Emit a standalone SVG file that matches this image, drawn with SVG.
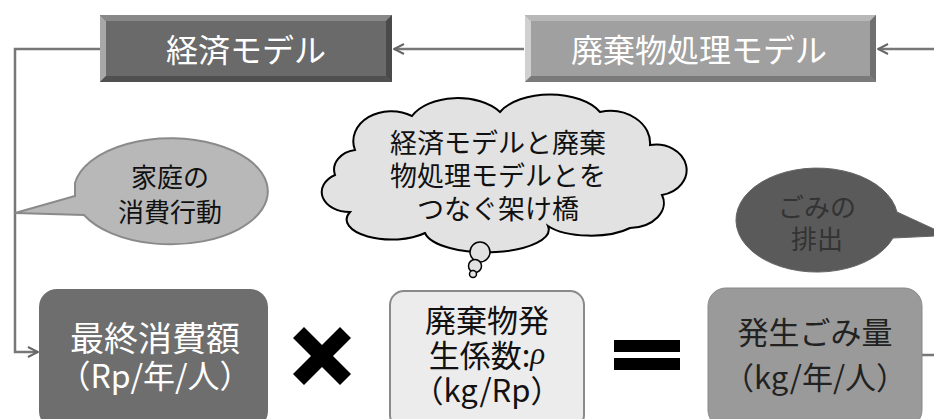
<svg xmlns="http://www.w3.org/2000/svg" width="934" height="419" viewBox="0 0 934 419">
<defs>
<marker id="arr" viewBox="0 0 12 12" refX="11" refY="6" markerWidth="12" markerHeight="12" markerUnits="userSpaceOnUse" orient="auto">
<path d="M1,1 L11,6 L1,11" fill="none" stroke="#666" stroke-width="2"/>
</marker>
<style>
text{font-family:"Noto Sans CJK JP","Noto Sans",sans-serif;text-anchor:middle;dominant-baseline:central}
.conn{fill:none;stroke:#777;stroke-width:2.5}
.wt{fill:#fff;font-size:32px}
.bt{fill:#111;font-size:31px}
.ct{fill:#111;font-size:26px}
.cl{fill:#111;font-size:27px}
</style>
</defs>
<rect width="934" height="419" fill="#fff"/>
<g id="connectors">
<path class="conn" d="M100,49 H15 V352 H38" marker-end="url(#arr)"/>
<path class="conn" d="M524,49 H394" marker-end="url(#arr)"/>
<path class="conn" d="M934,49 H878" marker-end="url(#arr)"/>
<path class="conn" d="M922,355 H934"/>
</g>
<g id="econ-model">
<rect x="100" y="15" width="292" height="67" fill="#6a6a6a"/>
<polygon points="100,15 106,21 106,76 100,82" fill="#a8a8a8"/>
<polygon points="100,15 392,15 386,21 106,21" fill="#888"/>
<polygon points="392,15 392,82 386,76 386,21" fill="#4a4a4a"/>
<polygon points="100,82 392,82 386,76 106,76" fill="#505050"/>
<text class="wt" x="246" y="48">経済モデル</text>
</g>
<g id="waste-model">
<rect x="525" y="15" width="351" height="67" fill="#a0a0a0"/>
<polygon points="525,15 531,21 531,76 525,82" fill="#d0d0d0"/>
<polygon points="525,15 876,15 870,21 531,21" fill="#b8b8b8"/>
<polygon points="876,15 876,82 870,76 870,21" fill="#707070"/>
<polygon points="525,82 876,82 870,76 531,76" fill="#7a7a7a"/>
<text class="wt" x="699" y="48">廃棄物処理モデル</text>
</g>
<g id="household-bubble">
<path d="M75,183 A97,53 0 1 1 84,215 L15,213 L75,196 Z" fill="#b8b8b8" stroke="#8a8a8a" stroke-width="2"/>
<text class="ct" x="170" y="175">家庭の</text>
<text class="ct" x="170" y="210">消費行動</text>
</g>
<g id="bridge-cloud">
<path d="M355,150 A38,30 0 0 1 412,116 A50,30 0 0 1 500,112 A55,30 0 0 1 600,112 A40,32 0 0 1 650,145 A30,25 0 0 1 662,195 A35,25 0 0 1 630,228 A50,20 0 0 1 548,226 A60,22 0 0 1 425,233 A45,20 0 0 1 350,212 A28,20 0 0 1 335,175 A25,20 0 0 1 355,150 Z" fill="#e2e2e2" stroke="#000" stroke-width="2"/>
<circle cx="480" cy="252" r="10" fill="#e2e2e2" stroke="#000" stroke-width="1.5"/>
<circle cx="475" cy="266" r="6.5" fill="#e2e2e2" stroke="#000" stroke-width="1.5"/>
<circle cx="473" cy="274" r="3.5" fill="#e2e2e2" stroke="#000" stroke-width="1.5"/>
<text class="cl" x="498" y="141">経済モデルと廃棄</text>
<text class="cl" x="498" y="174">物処理モデルとを</text>
<text class="cl" x="498" y="207">つなぐ架け橋</text>
</g>
<g id="waste-bubble">
<path d="M897,212 L936,230 L936,236 L893,238 A81,52 0 1 1 897,212 Z" fill="#5a5a5a" stroke="#666" stroke-width="1"/>
<text class="ct" x="817" y="205" style="fill:#333">ごみの</text>
<text class="ct" x="817" y="237" style="fill:#333">排出</text>
</g>
<g id="final-consumption">
<rect x="39" y="289" width="229" height="140" rx="18" fill="#6e6e6e"/>
<text class="wt" x="155" y="336" style="font-size:34px">最終消費額</text>
<text class="wt" x="155" y="374" style="font-size:32px">（Rp/年/人）</text>
</g>
<g id="times">
<polygon points="293,338 304,327 322,345 340,327 351,338 333,356 351,374 340,385 322,367 304,385 293,374 311,356" fill="#000"/>
</g>
<g id="coefficient">
<rect x="390" y="291" width="194" height="138" rx="14" fill="#ececec" stroke="#8a8a8a" stroke-width="2"/>
<text class="bt" x="487" y="318">廃棄物発</text>
<text class="bt" x="487" y="353">生係数:<tspan font-style="italic" font-family="Liberation Serif,serif">ρ</tspan></text>
<text class="bt" x="487" y="388">（kg/Rp）</text>
</g>
<g id="equals">
<rect x="614" y="340" width="66" height="12" fill="#000"/>
<rect x="614" y="358" width="66" height="12" fill="#000"/>
</g>
<g id="waste-generation">
<rect x="708" y="288" width="214" height="140" rx="18" fill="#9a9a9a" stroke="#888" stroke-width="1"/>
<text class="bt" x="815" y="330" style="fill:#222">発生ごみ量</text>
<text class="bt" x="815" y="375" style="fill:#222">（kg/年/人）</text>
</g>
</svg>
